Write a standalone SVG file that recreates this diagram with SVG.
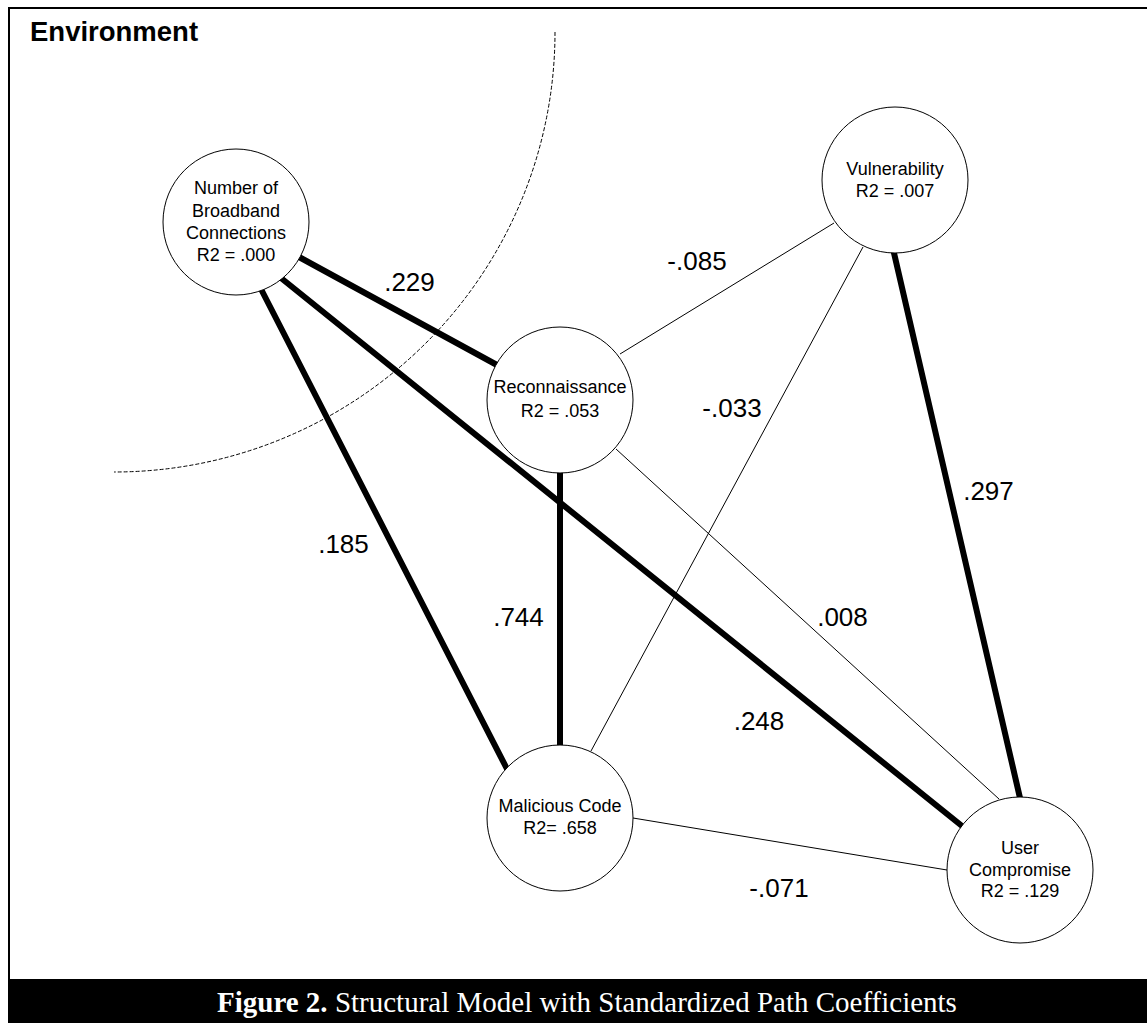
<svg xmlns="http://www.w3.org/2000/svg" width="1147" height="1023" viewBox="0 0 1147 1023">
<style>
.node ellipse{fill:#fff;stroke:#000;stroke-width:1}
.nt{font-family:"Liberation Sans",Arial,sans-serif;font-size:18px;fill:#000;text-anchor:middle}
.lbl{font-family:"Liberation Sans",Arial,sans-serif;font-size:26px;fill:#000;text-anchor:middle}
.thick{stroke:#000;stroke-width:6;stroke-linecap:round;fill:none}
.thin{stroke:#000;stroke-width:1;fill:none}
</style>
<rect x="0" y="0" width="1147" height="1023" fill="#fff"/>
<path d="M9,1023 V8 H1150" fill="none" stroke="#000" stroke-width="2"/>
<text x="30" y="41" font-family="'Liberation Sans',Arial,sans-serif" font-weight="bold" font-size="27.5" fill="#000">Environment</text>
<path id="environment-boundary" d="M555,32 A441,440 0 0 1 114,472" fill="none" stroke="#000" stroke-width="1" stroke-dasharray="4 2"/>
<g id="connectors">
<line class="thin" x1="620" y1="354" x2="834" y2="223"/>
<line class="thin" x1="863" y1="247" x2="591" y2="751"/>
<line class="thin" x1="616" y1="449" x2="999" y2="799"/>
<line class="thin" x1="633" y1="818" x2="947" y2="870"/>
<line class="thick" x1="299" y1="257" x2="497" y2="365"/>
<line class="thick" x1="281" y1="278" x2="962" y2="826"/>
<line class="thick" x1="261" y1="289" x2="507" y2="769"/>
<line class="thick" x1="560" y1="472" x2="560" y2="746"/>
<line class="thick" x1="894" y1="253" x2="1020" y2="798"/>
<text class="lbl" x="409.5" y="291">.229</text>
<text class="lbl" x="697" y="270">-.085</text>
<text class="lbl" x="732" y="417">-.033</text>
<text class="lbl" x="988.5" y="500">.297</text>
<text class="lbl" x="343.5" y="553">.185</text>
<text class="lbl" x="518.5" y="626">.744</text>
<text class="lbl" x="842.5" y="626">.008</text>
<text class="lbl" x="759" y="730">.248</text>
<text class="lbl" x="779" y="897">-.071</text>
</g>
<g id="node-broadband" class="node">
<ellipse cx="236" cy="222" rx="73" ry="73"/>
<text class="nt" x="236" y="194">Number of</text>
<text class="nt" x="236" y="217">Broadband</text>
<text class="nt" x="236" y="239">Connections</text>
<text class="nt" x="236" y="261">R2 = .000</text>
</g>
<g id="node-reconnaissance" class="node">
<ellipse cx="560" cy="400" rx="73" ry="73"/>
<text class="nt" x="560" y="393">Reconnaissance</text>
<text class="nt" x="560" y="417">R2 = .053</text>
</g>
<g id="node-vulnerability" class="node">
<ellipse cx="895" cy="180" rx="73" ry="73"/>
<text class="nt" x="895" y="175">Vulnerability</text>
<text class="nt" x="895" y="197">R2 = .007</text>
</g>
<g id="node-malicious" class="node">
<ellipse cx="560" cy="818" rx="73" ry="73"/>
<text class="nt" x="560" y="812">Malicious Code</text>
<text class="nt" x="560" y="834">R2= .658</text>
</g>
<g id="node-user" class="node">
<ellipse cx="1020" cy="870" rx="73" ry="73"/>
<text class="nt" x="1020" y="854">User</text>
<text class="nt" x="1020" y="876">Compromise</text>
<text class="nt" x="1020" y="897">R2 = .129</text>
</g>
<g id="caption">
<rect x="8" y="979" width="1139" height="44" fill="#000"/>
<text x="217" y="1012" font-family="'Liberation Serif','Times New Roman',serif" font-size="29" fill="#fff"><tspan font-weight="bold">Figure 2.</tspan> Structural Model with Standardized Path Coefficients</text>
</g>
</svg>
